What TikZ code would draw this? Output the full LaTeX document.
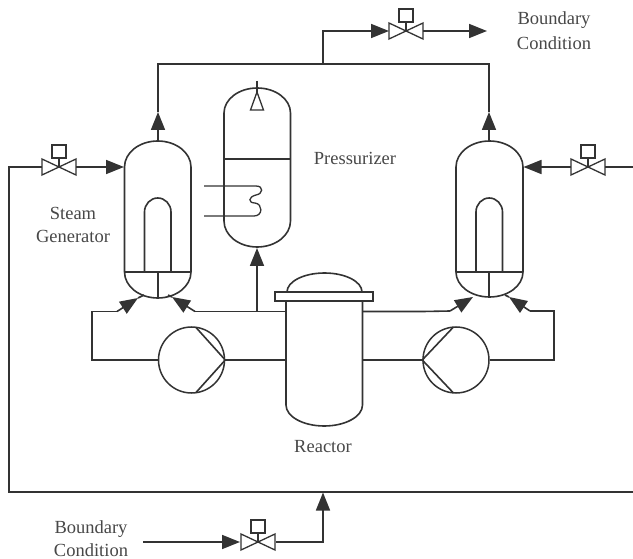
\documentclass[tikz,border=0pt]{standalone}
\usepackage{fontspec}
\setmainfont{Liberation Serif}
\usetikzlibrary{arrows.meta}
\definecolor{ink}{HTML}{333333}
\definecolor{txt}{HTML}{484848}
\tikzset{
  pipe/.style={draw=ink,line width=1.6pt,line join=miter},
  thin pipe/.style={draw=ink,line width=1.3pt},
  flow/.style={draw=ink,line width=1.6pt,-{Triangle[length=18pt,width=14pt,color=ink]}},
  pumpc/.style={circle,draw=ink,line width=1.5pt,minimum size=66pt,inner sep=0pt},
  lbl/.style={font=\fontsize{18.5}{22}\selectfont,text=txt,inner sep=0pt},
  valve/.pic={
    \draw[thin pipe] (-17,-8) -- (-17,8) -- (0,0) -- cycle;
    \draw[thin pipe] (17,-8) -- (17,8) -- (0,0) -- cycle;
    \draw[thin pipe] (0,0) -- (0,-9);
    \draw[thin pipe] (-7,-22) rectangle (7,-9);
  }
}
% #1 left x, #2 right x, #3 top y, #4 upper shoulder y, #5 lower shoulder y, #6 bottom y
\newcommand{\vesselshape}[6]{%
  \pgfmathsetmacro{\vrx}{(#2-#1)/2}%
  \pgfmathsetmacro{\vtop}{#4-#3}%
  \pgfmathsetmacro{\vbot}{#6-#5}%
  \draw[pipe] (#1,#5) -- (#1,#4) arc[start angle=180,end angle=360,x radius=\vrx,y radius=\vtop]
    -- (#2,#5) arc[start angle=0,end angle=180,x radius=\vrx,y radius=\vbot] -- cycle;
}
\begin{document}
\begin{tikzpicture}[x=1pt,y=-1pt]
\useasboundingbox (0,0) rectangle (633,559);
\fill[white] (0,0) rectangle (633,559);

% named points
\coordinate (sglTop) at (158,141);
\coordinate (sgrTop) at (489,141);
\coordinate (topL) at (158,64);
\coordinate (topR) at (489,64);
\coordinate (branch) at (323,64);
\coordinate (branchUp) at (323,31);
\coordinate (vTopIn) at (389,31);
\coordinate (vTopOut) at (423,31);
\coordinate (bcOut) at (487,31);
\coordinate (vTopC) at (406,31);
\coordinate (vLC) at (59,167);
\coordinate (vRC) at (588,167);
\coordinate (vBC) at (258,542);

% pressurizer
\vesselshape{224}{290.5}{88}{113}{221}{247}
\draw[pipe] (224,159) -- (290.5,159);
\draw[thin pipe] (257,81) -- (257,92);
\draw[thin pipe] (257,92) -- (250.5,110) -- (263.5,110) -- cycle;
\draw[thin pipe] (204,186) -- (256,186) .. controls (264,186) and (263,194) .. (256,195)
   .. controls (248,197) and (248,203) .. (255,203) .. controls (263,204) and (263,216) .. (254,216) -- (204,216);

% steam generators
\vesselshape{124.5}{191}{141}{167}{272}{298}
\draw[pipe] (124.5,272) -- (191,272);
\draw[pipe] (144.5,272) -- (144.5,212) arc[start angle=180,end angle=360,x radius=13.25,y radius=14] -- (171,272);
\draw[pipe] (158,272) -- (158,298);
\vesselshape{456}{523}{141}{167}{272}{297}
\draw[pipe] (456,272) -- (523,272);
\draw[pipe] (476,272) -- (476,212) arc[start angle=180,end angle=360,x radius=13.25,y radius=14] -- (502.5,272);
\draw[pipe] (489,272) -- (489,297);

% reactor
\draw[pipe] (287,292) arc[start angle=180,end angle=360,x radius=37.5,y radius=19];
\draw[pipe] (286,301) -- (286,405) arc[start angle=180,end angle=0,x radius=38.25,y radius=21] -- (362.5,301);
\draw[pipe] (275,292) rectangle (373,301);

% pumps
\node[pumpc] (pumpL) at (191.5,360) {};
\node[pumpc] (pumpR) at (456,360) {};
\draw[pipe] (196,327.5) -- (pumpL.east) -- (196,392.5);
\draw[pipe] (453,327.5) -- (pumpR.west) -- (453,392.5);

% loop piping
\coordinate (rl) at (286,311.5); \coordinate (rr) at (362.5,311.5);
\coordinate (ll) at (92,311.5); \coordinate (lb) at (92,360);
\coordinate (rrb) at (554,360); \coordinate (rrt) at (554,311);
\draw[pipe] (286,360) -- (pumpL.east);
\draw[pipe] (pumpL.west) -- (lb) -- (ll) -- (117,311.5);
\draw[flow] (117,311.5) -- (138,298);
\draw[pipe] (138,298) -- (144,295);
\draw[pipe] (rl) -- (195,311.5);
\draw[flow] (195,311.5) -- (172,297);
\draw[pipe] (172,297) -- (168,295);
\draw[pipe] (362.5,360) -- (pumpR.west);
\draw[pipe] (rr) -- (423,311.5) -- (450,311);
\draw[flow] (450,311) -- (473,297);
\draw[pipe] (pumpR.east) -- (rrb) -- (rrt) -- (530,311);
\draw[flow] (530,311) -- (509,297);
\draw[pipe] (509,297) -- (505,295);

% pressurizer surge line
\draw[pipe] (257,311.5) -- (257,268);
\draw[flow] (257,268) -- (257,248);

% top steam lines
\draw[pipe] (sglTop) -- (158,128);
\draw[flow] (158,130) -- (158,112);
\draw[pipe] (158,112) -- (topL) -- (topR) -- (489,112);
\draw[flow] (489,130) -- (489,112);
\draw[pipe] (sgrTop) -- (489,128);
\draw[pipe] (branch) -- (branchUp) -- (368,31);
\draw[flow] (368,31) -- (vTopIn);
\draw[pipe] (vTopOut) -- (468,31);
\draw[flow] (468,31) -- (bcOut);

% feed lines
\draw[pipe] (42,167) -- (9,167) -- (9,492) -- (633,492);
\draw[pipe] (76,167) -- (104,167);
\draw[flow] (104,167) -- (124,167);
\draw[pipe] (633,167) -- (605,167);
\draw[pipe] (571,167) -- (543,167);
\draw[flow] (543,167) -- (523.5,167);
\draw[pipe] (143,542) -- (220,542);
\draw[flow] (220,542) -- (240,542);
\draw[pipe] (276,542) -- (323,542) -- (323,511);
\draw[flow] (323,513) -- (323,492.5);

% valves
\pic at (vTopC) {valve};
\pic at (vLC) {valve};
\pic at (vRC) {valve};
\pic at (vBC) {valve};

% labels
\node[lbl] (l1) at (554,20) {Boundary};
\node[lbl] (l2) at (554,43) {Condition};
\node[lbl] (l3) at (355,158) {Pressurizer};
\node[lbl] (l4) at (73,213) {Steam};
\node[lbl] (l5) at (73,236) {Generator};
\node[lbl] (l6) at (323,447) {Reactor};
\node[lbl] (l7) at (91,529) {Boundary};
\node[lbl] (l8) at (91,550) {Condition};
\end{tikzpicture}
\end{document}
